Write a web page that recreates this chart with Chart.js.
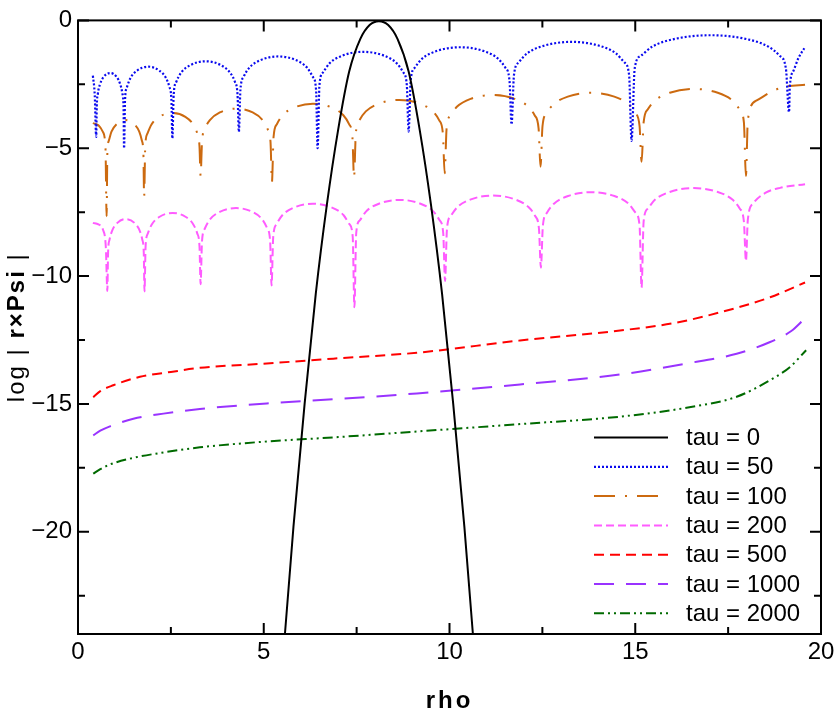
<!DOCTYPE html>
<html>
<head>
<meta charset="utf-8">
<script src="https://cdn.jsdelivr.net/npm/chart.js@4.4.0/dist/chart.umd.min.js"></script>
<style>
  html, body { margin: 0; padding: 0; background: #fff; }
</style>
</head>
<body>
<canvas id="psiChart" width="839" height="714"></canvas>
<script>
// series labels and axis ticks
const tauLabels = ['tau = 0', 'tau = 50', 'tau = 100', 'tau = 200', 'tau = 500', 'tau = 1000', 'tau = 2000'];
const xTicks = [0, 5, 10, 15, 20];
const yTicks = [0, -5, -10, -15, -20];
const xMinor = [2.5, 7.5, 12.5, 17.5];
const yMinor = [-2.5, -7.5, -12.5, -17.5, -22.5];

// values, [rho, log|r x Psi|]
const tau0 = [[5.50,-25.4],[5.57,-24.0],[5.8,-19.8],[6.1,-15.0],[6.4,-10.7],[6.7,-7.2],[7.0,-4.3],[7.3,-2.0],
  [7.6,-0.72],[7.85,-0.18],[8.1,-0.03],[8.35,-0.18],[8.6,-0.72],[8.9,-2.0],[9.2,-4.3],[9.5,-7.2],[9.8,-10.7],
  [10.1,-15.0],[10.4,-19.8],[10.63,-24.0],[10.7,-25.4]];

const tau50 = [[0.40,-2.16],[0.45,-2.9],[0.49,-4.56],
  [0.505,-3.36],[0.535,-2.86],[0.59,-2.51],[0.69,-2.21],[0.87,-2.06],[1.04,-2.21],[1.14,-2.51],[1.195,-2.86],[1.225,-3.36],[1.24,-5.0],
  [1.266,-3.11],[1.318,-2.61],[1.409,-2.26],[1.591,-1.96],[1.89,-1.81],[2.189,-1.96],[2.371,-2.26],[2.462,-2.61],[2.514,-3.11],[2.54,-4.62],
  [2.576,-2.9],[2.647,-2.4],[2.773,-2.05],[3.023,-1.75],[3.435,-1.6],[3.847,-1.75],[4.097,-2.05],[4.223,-2.4],[4.294,-2.9],[4.33,-4.36],
  [4.372,-2.71],[4.457,-2.21],[4.606,-1.86],[4.902,-1.56],[5.39,-1.41],[5.878,-1.56],[6.174,-1.86],[6.323,-2.21],[6.408,-2.71],[6.45,-5.0],
  [6.499,-2.53],[6.597,-2.03],[6.769,-1.68],[7.112,-1.38],[7.675,-1.23],[8.239,-1.38],[8.582,-1.68],[8.753,-2.03],[8.851,-2.53],[8.90,-4.35],
  [8.955,-2.35],[9.066,-1.85],[9.26,-1.5],[9.648,-1.2],[10.285,-1.05],[10.922,-1.2],[11.31,-1.5],[11.504,-1.85],[11.615,-2.35],[11.67,-4.07],
  [11.735,-2.14],[11.864,-1.64],[12.09,-1.29],[12.542,-0.99],[13.285,-0.84],[14.028,-0.99],[14.48,-1.29],[14.706,-1.64],[14.835,-2.14],[14.90,-4.71],
  [14.985,-1.88],[15.154,-1.38],[15.451,-1.03],[16.045,-0.73],[17.02,-0.58],[17.995,-0.73],[18.589,-1.03],[18.886,-1.38],[19.055,-1.88],[19.14,-3.59],
  [19.16,-2.6],[19.26,-1.97],[19.4,-1.45],[19.55,-1.09]];

const tau100 = [[0.40,-4.02],[0.55,-4.1],[0.67,-4.36],[0.74,-5.0],[0.77,-7.66],
  [0.79,-5.2],[0.831,-4.7],[0.901,-4.35],[1.043,-4.05],[1.275,-3.9],[1.507,-4.05],[1.649,-4.35],[1.719,-4.7],[1.76,-5.2],[1.78,-6.9],
  [1.81,-4.92],[1.871,-4.42],[1.978,-4.07],[2.19,-3.77],[2.54,-3.62],[2.89,-3.77],[3.102,-4.07],[3.209,-4.42],[3.27,-4.92],[3.30,-6.08],
  [3.338,-4.75],[3.415,-4.25],[3.55,-3.9],[3.818,-3.6],[4.26,-3.45],[4.702,-3.6],[4.97,-3.9],[5.105,-4.25],[5.182,-4.75],[5.22,-6.33],
  [5.264,-4.56],[5.353,-4.06],[5.507,-3.71],[5.817,-3.41],[6.325,-3.26],[6.833,-3.41],[7.143,-3.71],[7.297,-4.06],[7.386,-4.56],[7.43,-6.14],
  [7.479,-4.41],[7.576,-3.91],[7.747,-3.56],[8.089,-3.26],[8.65,-3.11],[9.211,-3.26],[9.553,-3.56],[9.724,-3.91],[9.821,-4.41],[9.87,-5.98],
  [9.922,-4.22],[10.025,-3.72],[10.205,-3.37],[10.567,-3.07],[11.16,-2.92],[11.753,-3.07],[12.115,-3.37],[12.295,-3.72],[12.398,-4.22],[12.45,-5.72],
  [12.504,-4.13],[12.613,-3.63],[12.804,-3.28],[13.184,-2.98],[13.81,-2.83],[14.436,-2.98],[14.816,-3.28],[15.007,-3.63],[15.116,-4.13],[15.17,-5.53],
  [15.226,-3.98],[15.339,-3.48],[15.535,-3.13],[15.929,-2.83],[16.575,-2.68],[17.221,-2.83],[17.615,-3.13],[17.811,-3.48],[17.924,-3.98],[17.98,-6.08],
  [18.03,-3.9],[18.27,-3.13],[18.72,-2.75],[19.08,-2.58],[19.57,-2.52]];

const tau200 = [[0.40,-7.92],[0.55,-7.98],[0.67,-8.18],[0.75,-8.9],[0.79,-10.58],
  [0.81,-9.07],[0.85,-8.57],[0.92,-8.22],[1.06,-7.92],[1.29,-7.77],[1.52,-7.92],[1.66,-8.22],[1.73,-8.57],[1.77,-9.07],[1.79,-10.6],
  [1.82,-8.83],[1.881,-8.33],[1.986,-7.98],[2.198,-7.68],[2.545,-7.53],[2.892,-7.68],[3.104,-7.98],[3.209,-8.33],[3.27,-8.83],[3.30,-10.32],
  [3.338,-8.64],[3.415,-8.14],[3.548,-7.79],[3.816,-7.49],[4.255,-7.34],[4.694,-7.49],[4.962,-7.79],[5.095,-8.14],[5.172,-8.64],[5.21,-10.37],
  [5.255,-8.47],[5.344,-7.97],[5.5,-7.62],[5.812,-7.32],[6.325,-7.17],[6.838,-7.32],[7.15,-7.62],[7.306,-7.97],[7.395,-8.47],[7.44,-11.22],
  [7.489,-8.32],[7.586,-7.82],[7.757,-7.47],[8.099,-7.17],[8.66,-7.02],[9.221,-7.17],[9.563,-7.47],[9.734,-7.82],[9.831,-8.32],[9.88,-10.19],
  [9.932,-8.15],[10.035,-7.65],[10.215,-7.3],[10.577,-7.0],[11.17,-6.85],[11.763,-7.0],[12.125,-7.3],[12.305,-7.65],[12.408,-8.15],[12.46,-9.67],
  [12.514,-8.02],[12.623,-7.52],[12.812,-7.17],[13.192,-6.87],[13.815,-6.72],[14.438,-6.87],[14.818,-7.17],[15.007,-7.52],[15.116,-8.02],[15.17,-10.45],
  [15.226,-7.86],[15.339,-7.36],[15.535,-7.01],[15.929,-6.71],[16.575,-6.56],[17.221,-6.71],[17.615,-7.01],[17.811,-7.36],[17.924,-7.86],[17.98,-9.41],
  [18.03,-7.8],[18.18,-7.15],[18.5,-6.75],[18.9,-6.55],[19.57,-6.41]];

const tau500 = [[0.41,-14.74],[0.6,-14.5],[0.95,-14.27],[1.67,-13.94],[2.5,-13.75],[3.28,-13.59],[5.08,-13.42],
  [6.87,-13.23],[9.12,-13.0],[11.9,-12.52],[14.59,-12.13],[16.0,-11.85],[17.28,-11.42],[18.63,-10.83],[19.57,-10.25]];

const tau1000 = [[0.41,-16.23],[0.6,-16.05],[0.86,-15.88],[1.49,-15.58],[2.3,-15.38],[3.28,-15.2],[5.08,-14.98],
  [6.87,-14.82],[9.12,-14.59],[11.9,-14.24],[14.59,-13.85],[16.38,-13.42],[17.73,-13.04],[18.63,-12.58],[19.2,-12.15],[19.57,-11.65]];

const tau2000 = [[0.41,-17.73],[0.6,-17.55],[0.86,-17.37],[1.49,-17.11],[2.3,-16.9],[3.28,-16.7],[5.08,-16.47],
  [6.87,-16.31],[9.12,-16.08],[11.9,-15.79],[14.59,-15.5],[16.38,-15.15],[17.73,-14.72],[18.63,-14.07],[19.17,-13.55],[19.6,-12.9]];

const seriesData = [tau0, tau50, tau100, tau200, tau500, tau1000, tau2000];
const seriesColors = ['#000000', '#0a0aee', '#cc6a10', '#ff5cff', '#ff0000', '#9933ff', '#006a00'];
const seriesDash = [[], [2, 2], [21, 10, 2, 10], [8, 4], [10, 6], [20, 12], [10, 4, 2, 4, 2, 4]];

const FONT = "'Liberation Sans', Arial, Helvetica, sans-serif";

function fmt(v) {
    return String(v).replace('-', '\u2212');
}

const datasets = seriesData.map((pts, i) => ({
    label: tauLabels[i],
    data: pts.map(p => ({ x: p[0], y: p[1] })),
    showLine: true,
    borderColor: seriesColors[i],
    borderDash: seriesDash[i],
    borderWidth: i === 1 ? 2.2 : 2,
    pointRadius: 0,
    fill: false,
    cubicInterpolationMode: 'monotone'
}));

// box, inward ticks, legend and axis titles
const decorations = {
    id: 'decorations',
    afterDatasetsDraw(chart) {
        const { ctx, chartArea: a, scales: { x, y } } = chart;
        ctx.save();
        ctx.strokeStyle = '#000';
        ctx.lineWidth = 2;
        ctx.setLineDash([]);
        ctx.strokeRect(a.left, a.top, a.right - a.left, a.bottom - a.top);

        ctx.beginPath();
        const xt = xTicks.map(v => [v, 11]).concat(xMinor.map(v => [v, 7]));
        xt.forEach(([v, len]) => {
            const px = x.getPixelForValue(v);
            ctx.moveTo(px, a.bottom); ctx.lineTo(px, a.bottom - len);
            ctx.moveTo(px, a.top); ctx.lineTo(px, a.top + len);
        });
        const yt = yTicks.map(v => [v, 11]).concat(yMinor.map(v => [v, 7]));
        yt.forEach(([v, len]) => {
            const py = y.getPixelForValue(v);
            ctx.moveTo(a.left, py); ctx.lineTo(a.left + len, py);
            ctx.moveTo(a.right, py); ctx.lineTo(a.right - len, py);
        });
        ctx.stroke();

        // legend inside the plot
        ctx.font = '24px ' + FONT;
        ctx.textBaseline = 'middle';
        ctx.fillStyle = '#000';
        chart.data.datasets.forEach((ds, i) => {
            const ly = 437.5 + i * 29.3;
            ctx.strokeStyle = ds.borderColor;
            ctx.lineWidth = ds.borderWidth;
            ctx.setLineDash(ds.borderDash);
            ctx.beginPath();
            ctx.moveTo(594, ly);
            ctx.lineTo(668, ly);
            ctx.stroke();
            ctx.fillText(ds.label, 686, ly + 1);
        });
        ctx.setLineDash([]);

        // x title
        ctx.font = 'bold 24px ' + FONT;
        ctx.letterSpacing = '3px';
        ctx.textAlign = 'center';
        ctx.fillText('rho', (a.left + a.right) / 2, 701);

        // y title with bold middle part
        ctx.translate(17, (a.top + a.bottom) / 2);
        ctx.rotate(-Math.PI / 2);
        ctx.textAlign = 'left';
        const parts = [['log | ', '24px '], ['r\u00d7Psi', 'bold 24px '], [' |', '24px ']];
        ctx.letterSpacing = '2px';
        let total = 0;
        parts.forEach(([t, f]) => { ctx.font = f + FONT; total += ctx.measureText(t).width; });
        let cx = -total / 2;
        parts.forEach(([t, f]) => {
            ctx.font = f + FONT;
            ctx.fillText(t, cx, 0);
            cx += ctx.measureText(t).width;
        });
        ctx.restore();
    }
};

const ctx = document.getElementById('psiChart').getContext('2d');
new Chart(ctx, {
    type: 'scatter',
    data: { datasets: datasets },
    options: {
        responsive: false,
        animation: false,
        layout: { padding: { top: 16, right: 18, left: 0, bottom: 0 } },
        plugins: { legend: { display: false }, tooltip: { enabled: false } },
        scales: {
            x: {
                type: 'linear',
                min: 0,
                max: 20,
                afterBuildTicks: s => { s.ticks = xTicks.map(v => ({ value: v })); },
                afterFit: s => { s.height = 80; },
                grid: { display: false, drawTicks: false },
                border: { display: false },
                ticks: {
                    color: '#000', padding: 4, maxRotation: 0, autoSkip: false,
                    font: { family: FONT, size: 24 },
                    callback: v => fmt(v)
                }
            },
            y: {
                type: 'linear',
                min: -24,
                max: 0,
                afterBuildTicks: s => { s.ticks = yTicks.map(v => ({ value: v })); },
                afterFit: s => { s.width = 78; },
                grid: { display: false, drawTicks: false },
                border: { display: false },
                ticks: {
                    color: '#000', padding: 6, autoSkip: false,
                    font: { family: FONT, size: 24 },
                    callback: v => fmt(v)
                }
            }
        }
    },
    plugins: [decorations]
});
</script>
</body>
</html>
